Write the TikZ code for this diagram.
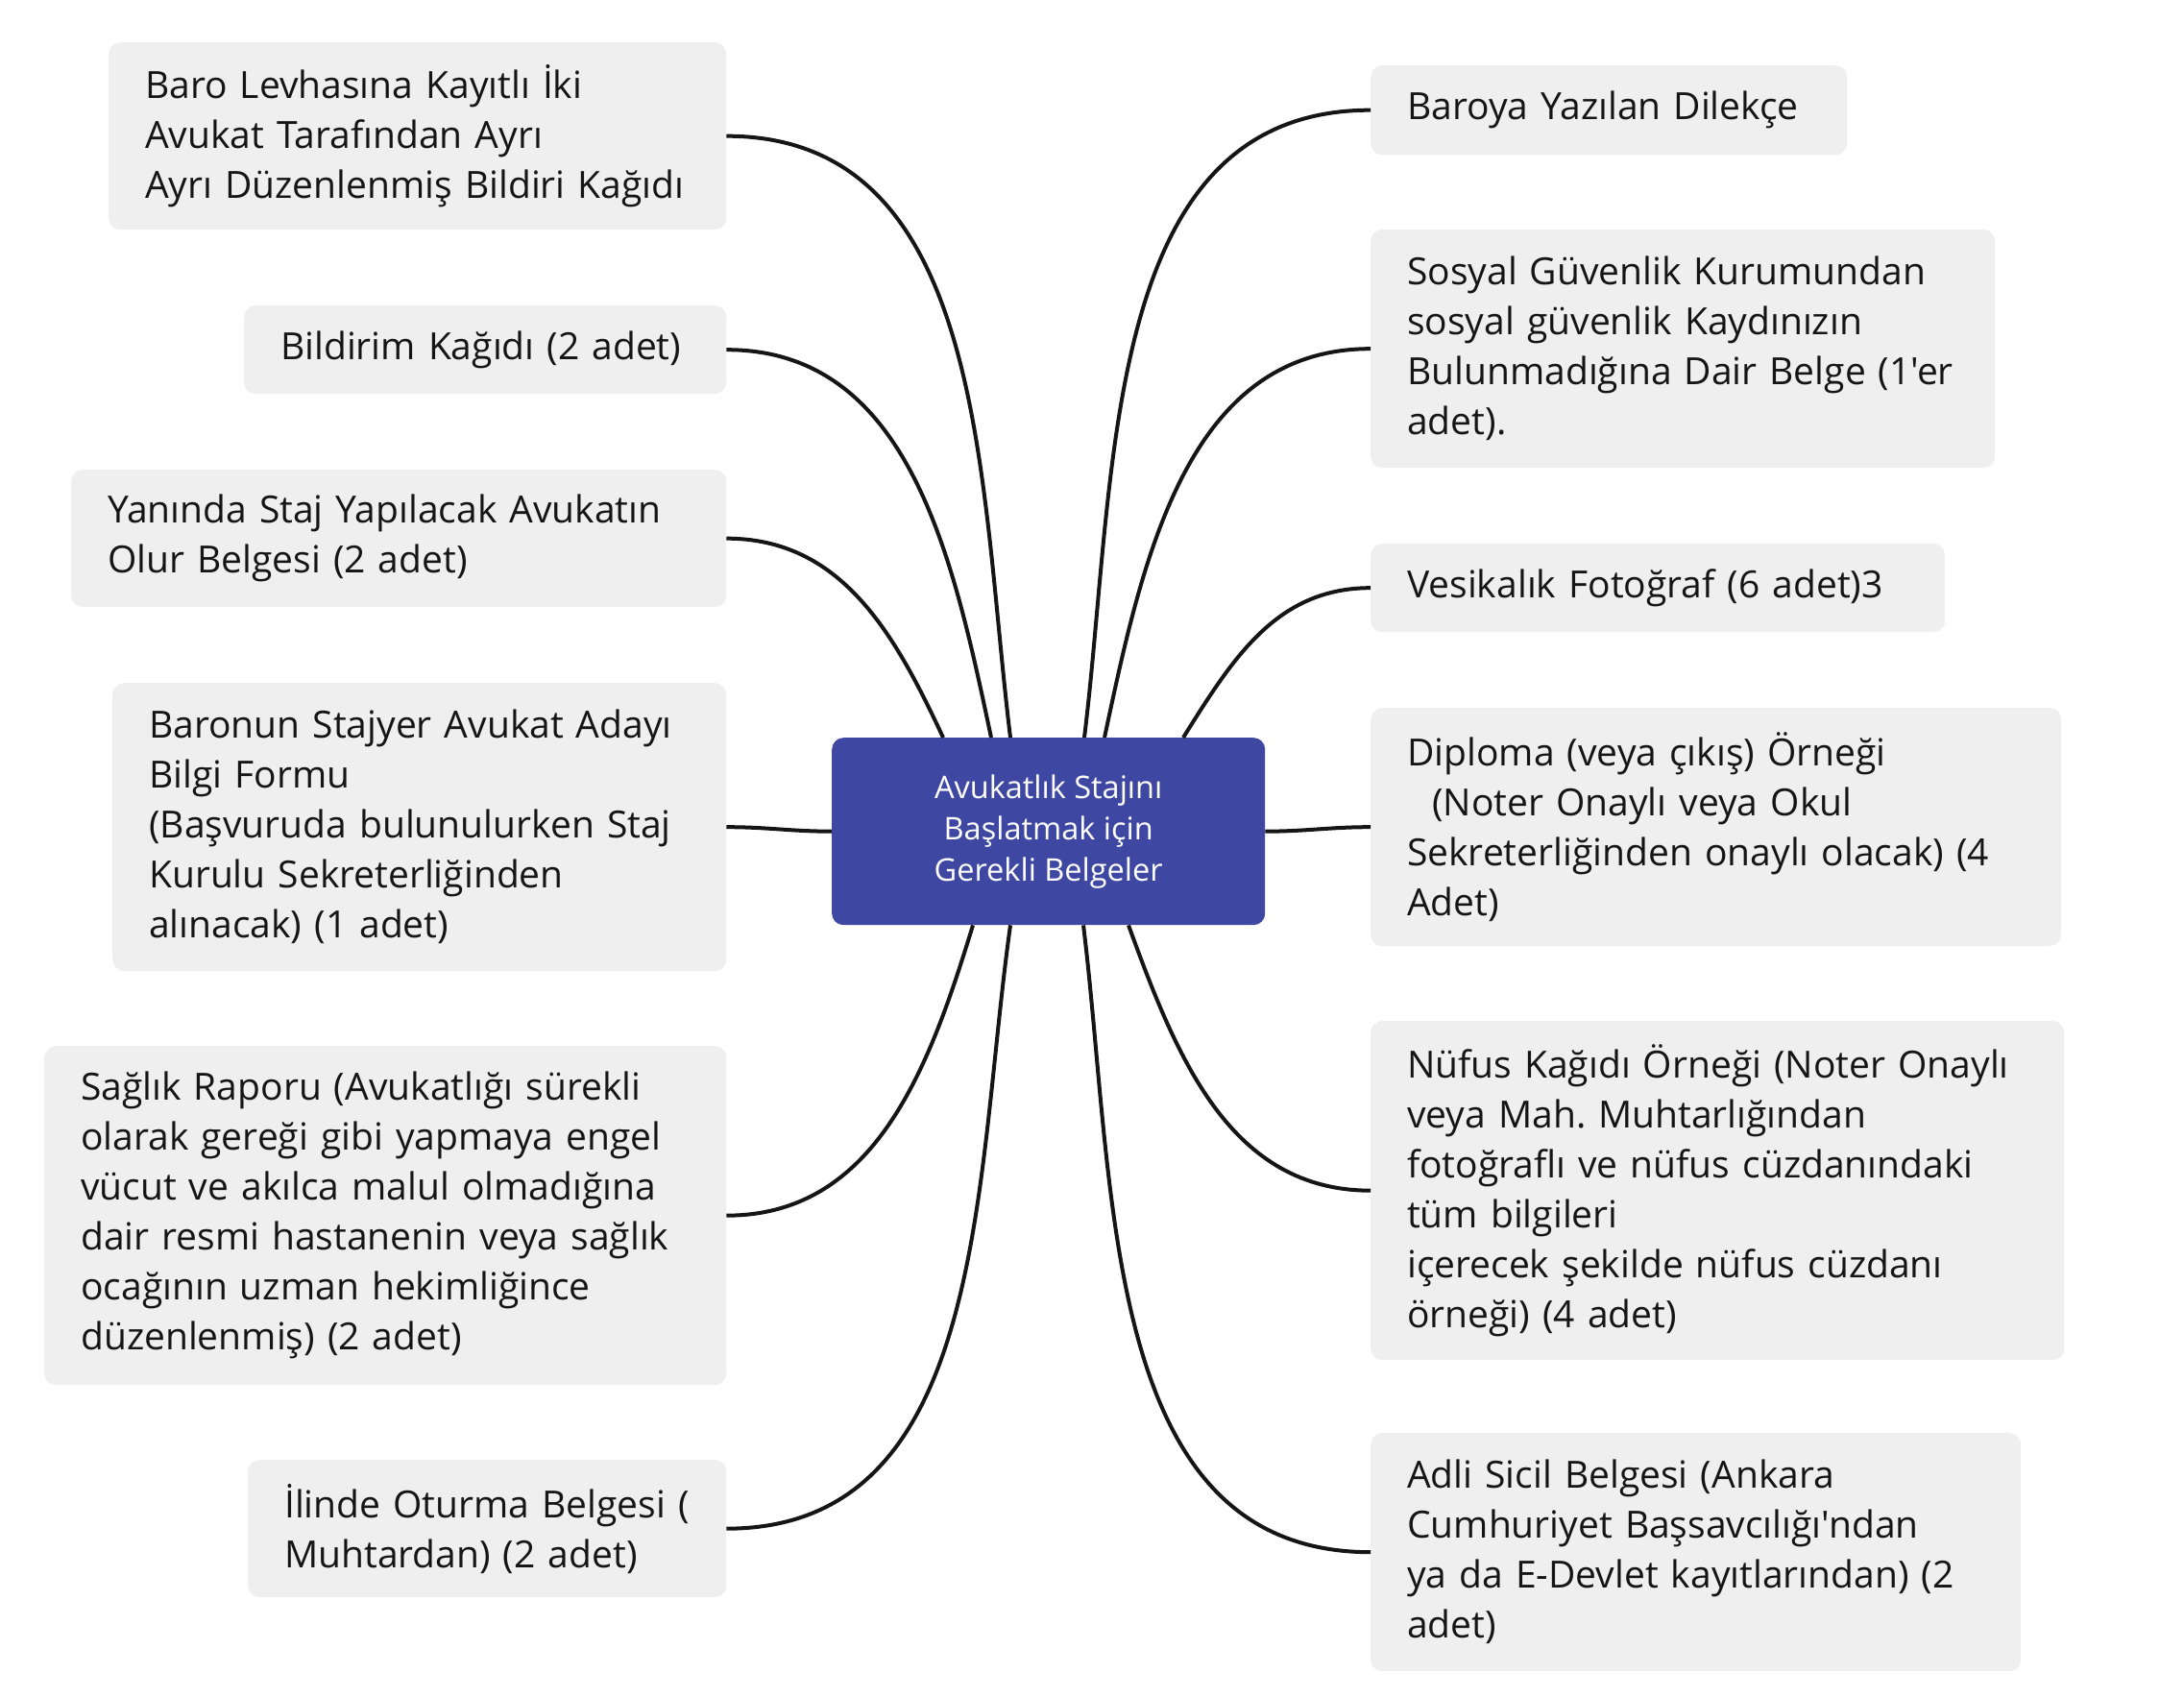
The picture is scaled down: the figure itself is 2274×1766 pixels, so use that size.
\documentclass[tikz,border=0pt]{standalone}
\usepackage{fontspec}
\setmainfont{Open Sans}[Ligatures=TeXOff]
\frenchspacing
\definecolor{boxfill}{HTML}{EFEFEF}
\definecolor{hub}{HTML}{3E48A2}
\definecolor{ink}{HTML}{151515}
\newcommand{\bl}[1]{\mbox{#1}}
\begin{document}
\begin{tikzpicture}[x=1pt,y=1pt,
  item/.style={draw=none,fill=boxfill,rounded corners=12pt,anchor=north west,
    align=left,inner xsep=38pt,inner ysep=0pt,text=ink,
    font=\fontsize{39}{52}\selectfont},
  hubbox/.style={draw=none,fill=hub,rounded corners=12pt,anchor=north west,
    align=center,inner sep=0pt,text=white,
    font=\fontsize{32.5}{43}\selectfont,minimum width=451pt,minimum height=195pt},
  link/.style={draw=ink,line width=4pt}]
\useasboundingbox (0,0) rectangle (2274,1766);

\node[hubbox] (C) at (866,998) {Avukatlık Stajını\\Başlatmak için\\ Gerekli Belgeler};

\node[item,text width=567pt,minimum height=195pt] (L1) at (113,1722)
  {\bl{Baro Levhasına Kayıtlı İki}\\\bl{Avukat Tarafından Ayrı}\\\bl{Ayrı Düzenlenmiş Bildiri Kağıdı}};
\node[item,text width=426pt,minimum height=92pt] (L2) at (254,1448)
  {\bl{Bildirim Kağıdı (2 adet)}};
\node[item,text width=606pt,minimum height=143pt] (L3) at (74,1277)
  {\bl{Yanında Staj Yapılacak Avukatın}\\\bl{Olur Belgesi (2 adet)}};
\node[item,text width=563pt,minimum height=300pt] (L4) at (117,1055)
  {\bl{Baronun Stajyer Avukat Adayı}\\\bl{Bilgi Formu}\\\bl{(Başvuruda bulunulurken Staj}\\\bl{Kurulu Sekreterliğinden}\\\bl{alınacak) (1 adet)}};
\node[item,text width=634pt,minimum height=353pt] (L5) at (46,677)
  {\bl{Sağlık Raporu (Avukatlığı sürekli}\\\bl{olarak gereği gibi yapmaya engel}\\\bl{vücut ve akılca malul olmadığına}\\\bl{dair resmi hastanenin veya sağlık}\\\bl{ocağının uzman hekimliğince}\\\bl{düzenlenmiş) (2 adet)}};
\node[item,text width=422pt,minimum height=143pt] (L6) at (258,246)
  {\bl{İlinde Oturma Belgesi (}\\\bl{Muhtardan) (2 adet)}};

\node[item,text width=420pt,minimum height=93pt] (R1) at (1427,1698)
  {\bl{Baroya Yazılan Dilekçe}};
\node[item,text width=574pt,minimum height=248pt] (R2) at (1427,1527)
  {\bl{Sosyal Güvenlik Kurumundan}\\\bl{sosyal güvenlik Kaydınızın}\\\bl{Bulunmadığına Dair Belge (1'er}\\\bl{adet).}};
\node[item,text width=522pt,minimum height=92pt] (R3) at (1427,1200)
  {\bl{Vesikalık Fotoğraf (6 adet)3}};
\node[item,text width=643pt,minimum height=248pt] (R4) at (1427,1029)
  {\bl{Diploma (veya çıkış) Örneği}\\\bl{\ \ (Noter Onaylı veya Okul}\\\bl{Sekreterliğinden onaylı olacak) (4}\\\bl{Adet)}};
\node[item,text width=646pt,minimum height=353pt] (R5) at (1427,703)
  {\bl{Nüfus Kağıdı Örneği (Noter Onaylı}\\\bl{veya Mah. Muhtarlığından}\\\bl{fotoğraflı ve nüfus cüzdanındaki}\\\bl{tüm bilgileri}\\\bl{içerecek şekilde nüfus cüzdanı}\\\bl{örneği) (4 adet)}};
\node[item,text width=601pt,minimum height=248pt] (R6) at (1427,274)
  {\bl{Adli Sicil Belgesi (Ankara}\\\bl{Cumhuriyet Başsavcılığı'ndan}\\\bl{ya da E-Devlet kayıtlarından) (2}\\\bl{adet)}};

\draw[link] (L1.east) to[out=0,in=97] ([xshift=186pt]C.north west);
\draw[link] (L2.east) to[out=0,in=102] ([xshift=166pt]C.north west);
\draw[link] (L3.east) to[out=0,in=115] ([xshift=116pt]C.north west);
\draw[link] (L4.east) to[out=0,in=180] (C.west);
\draw[link] (L5.east) to[out=0,in=253] ([xshift=147pt]C.south west);
\draw[link] (L6.east) to[out=0,in=262] ([xshift=186pt]C.south west);

\draw[link] (R1.west) to[out=180,in=83] ([xshift=263pt]C.north west);
\draw[link] (R2.west) to[out=180,in=78] ([xshift=284pt]C.north west);
\draw[link] (R3.west) to[out=180,in=58] ([xshift=366pt]C.north west);
\draw[link] (R4.west) to[out=180,in=0] (C.east);
\draw[link] (R5.west) to[out=180,in=290] ([xshift=309pt]C.south west);
\draw[link] (R6.west) to[out=180,in=277] ([xshift=262pt]C.south west);
\end{tikzpicture}
\end{document}
